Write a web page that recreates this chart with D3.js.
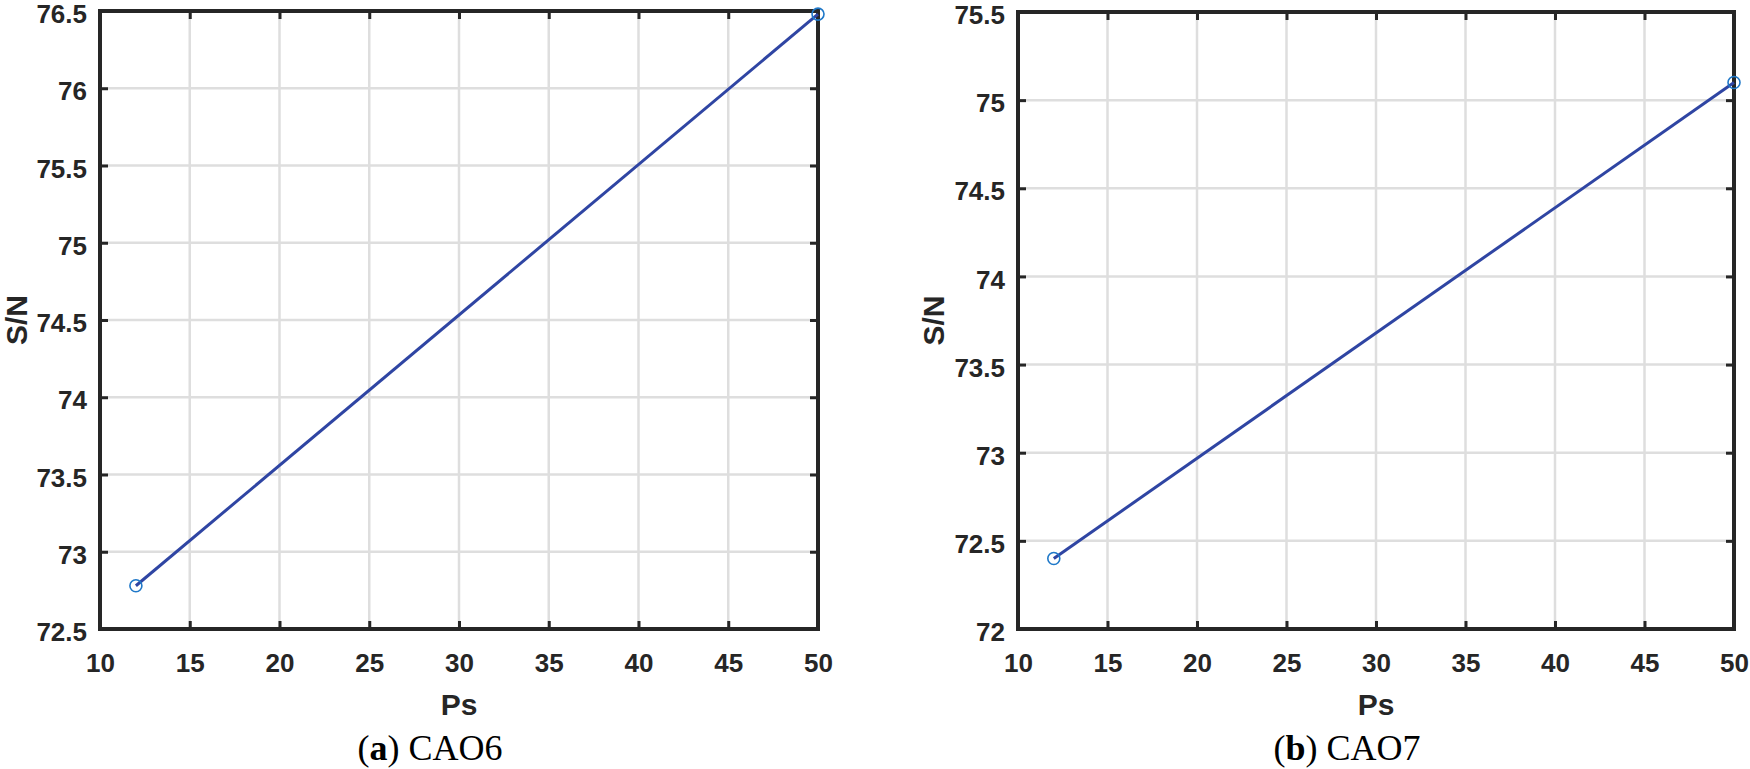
<!DOCTYPE html>
<html>
<head>
<meta charset="utf-8">
<script src="https://cdn.jsdelivr.net/npm/d3@7"></script>
<style>
  html, body { margin: 0; padding: 0; background: #fff; }
  svg { display: block; }
  .tick text { font-family: "Liberation Sans", Arial, sans-serif; font-weight: bold; font-size: 26px; fill: #262626; }
</style>
</head>
<body>
<script>
// ---- data ----
const psValues = [12, 50];
const snCAO6 = [72.78, 76.48];
const snCAO7 = [72.40, 75.10];
const xTicks = [10, 15, 20, 25, 30, 35, 40, 45, 50];
const yTicksA = [72.5, 73, 73.5, 74, 74.5, 75, 75.5, 76, 76.5];
const yTicksB = [72, 72.5, 73, 73.5, 74, 74.5, 75, 75.5];
const xLabel = "Ps";
const yLabel = "S/N";
const captionLetters = ["a", "b"];
const captionNames = ["CAO6", "CAO7"];

const panels = [
  { left: 100, right: 818, top: 11, bottom: 629, y: snCAO6, yTicks: yTicksA, letter: captionLetters[0], name: captionNames[0], ylabX: 16 },
  { left: 1018, right: 1734, top: 12, bottom: 629, y: snCAO7, yTicks: yTicksB, letter: captionLetters[1], name: captionNames[1], ylabX: 933 }
];

const W = 1750, H = 769;
const svg = d3.select("body").append("svg").attr("width", W).attr("height", H);

const axisColor = "#262626";
const gridColor = "#dedede";
const lineColor = "#2f45a3";
const markerColor = "#1f78c8";

panels.forEach(p => {
  const x = d3.scaleLinear().domain([xTicks[0], xTicks[xTicks.length - 1]]).range([p.left, p.right]);
  const y = d3.scaleLinear().domain([p.yTicks[0], p.yTicks[p.yTicks.length - 1]]).range([p.bottom, p.top]);
  const g = svg.append("g");

  // grid
  g.append("g").selectAll("line.gx").data(xTicks.slice(1, -1)).join("line")
    .attr("x1", d => x(d)).attr("x2", d => x(d))
    .attr("y1", p.top).attr("y2", p.bottom)
    .attr("stroke", gridColor).attr("stroke-width", 2.5);
  g.append("g").selectAll("line.gy").data(p.yTicks.slice(1, -1)).join("line")
    .attr("x1", p.left).attr("x2", p.right)
    .attr("y1", d => y(d)).attr("y2", d => y(d))
    .attr("stroke", gridColor).attr("stroke-width", 2.5);

  // axes
  const styleAxis = sel => {
    sel.select(".domain").remove();
    sel.selectAll(".tick line").attr("stroke", axisColor).attr("stroke-width", 3);
  };
  g.append("g").attr("transform", `translate(0,${p.bottom})`)
    .call(d3.axisBottom(x).tickValues(xTicks).tickSizeInner(-8).tickSizeOuter(0).tickPadding(25).tickFormat(d3.format("d")))
    .call(styleAxis)
    .call(s => s.selectAll(".tick text").attr("font-family", null));
  g.append("g").attr("transform", `translate(0,${p.top})`)
    .call(d3.axisTop(x).tickValues(xTicks).tickSizeInner(-8).tickSizeOuter(0).tickFormat(""))
    .call(styleAxis);
  g.append("g").attr("transform", `translate(${p.left},0)`)
    .call(d3.axisLeft(y).tickValues(p.yTicks).tickSizeInner(-8).tickSizeOuter(0).tickPadding(13).tickFormat(d => String(d)))
    .call(styleAxis)
    .call(s => s.selectAll(".tick text").attr("dy", "0.45em"));
  g.append("g").attr("transform", `translate(${p.right},0)`)
    .call(d3.axisRight(y).tickValues(p.yTicks).tickSizeInner(-8).tickSizeOuter(0).tickFormat(""))
    .call(styleAxis);

  // frame
  g.append("rect").attr("x", p.left).attr("y", p.top)
    .attr("width", p.right - p.left).attr("height", p.bottom - p.top)
    .attr("fill", "none").attr("stroke", axisColor).attr("stroke-width", 4);

  // data line
  const pts = psValues.map((v, i) => [v, p.y[i]]);
  g.append("path").datum(pts)
    .attr("d", d3.line().x(d => x(d[0])).y(d => y(d[1])))
    .attr("fill", "none").attr("stroke", lineColor).attr("stroke-width", 3);
  g.append("g").selectAll("circle").data(pts).join("circle")
    .attr("cx", d => x(d[0])).attr("cy", d => y(d[1])).attr("r", 6)
    .attr("fill", "none").attr("stroke", markerColor).attr("stroke-width", 1.6);

  // labels
  const cx = (p.left + p.right) / 2;
  g.append("text").attr("x", cx).attr("y", 715).attr("text-anchor", "middle")
    .attr("font-family", "Liberation Sans, Arial, sans-serif").attr("font-weight", "bold")
    .attr("font-size", 30).attr("fill", axisColor).text(xLabel);
  g.append("text").attr("transform", `translate(${p.ylabX + 11},${(p.top + p.bottom) / 2}) rotate(-90)`)
    .attr("text-anchor", "middle")
    .attr("font-family", "Liberation Sans, Arial, sans-serif").attr("font-weight", "bold")
    .attr("font-size", 30).attr("fill", axisColor).text(yLabel);

  const cap = g.append("text").attr("x", cx - 29).attr("y", 760).attr("text-anchor", "middle")
    .attr("font-family", "Liberation Serif, Times New Roman, serif").attr("font-size", 36).attr("fill", "#000");
  cap.append("tspan").text("(");
  cap.append("tspan").attr("font-weight", "bold").text(p.letter);
  cap.append("tspan").text(") " + p.name);
});
</script>
</body>
</html>
